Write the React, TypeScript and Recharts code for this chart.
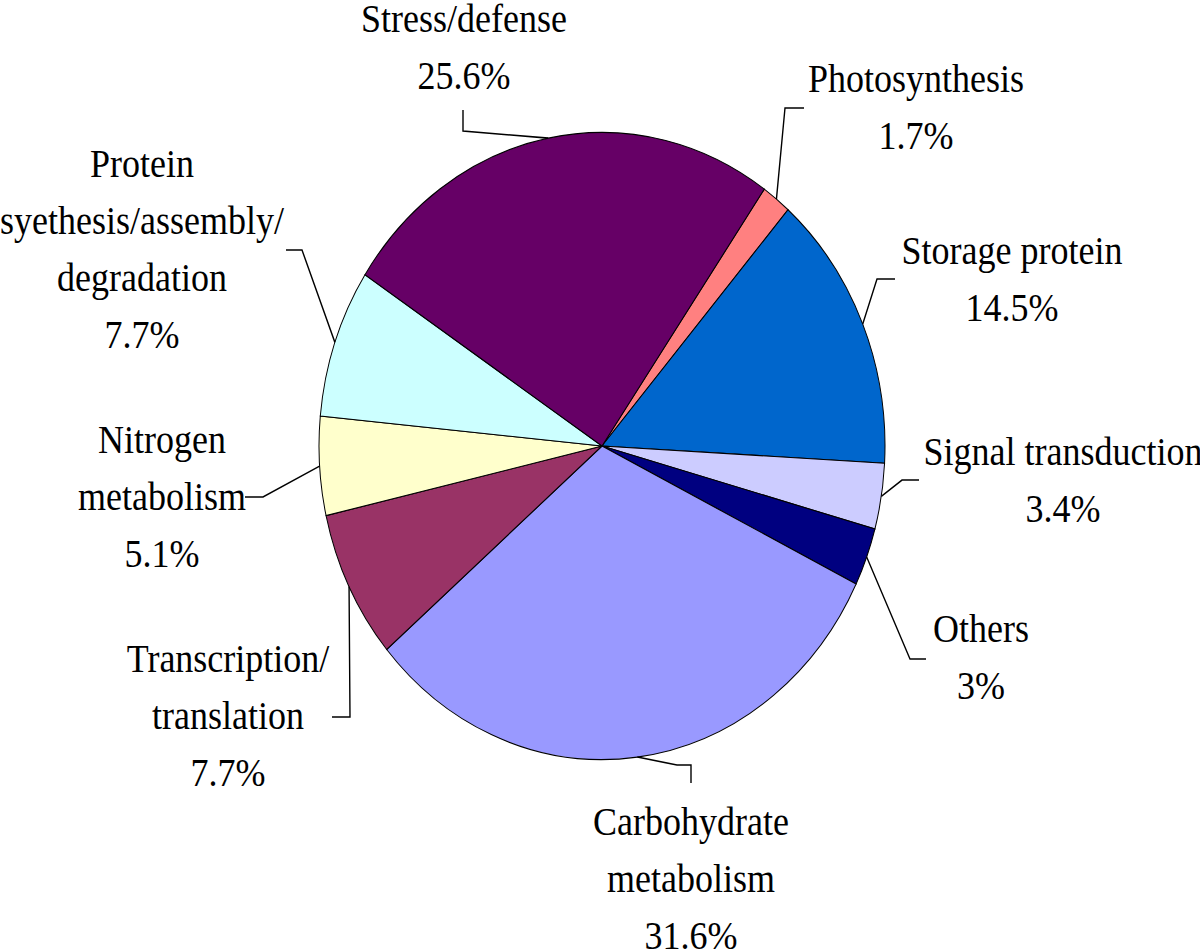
import { PieChart, Pie, Cell } from 'recharts';

// slices clockwise, starting just right of 12 o'clock
const categories = [
  'Photosynthesis',
  'Storage protein',
  'Signal transduction',
  'Others',
  'Carbohydrate\nmetabolism',
  'Transcription/\ntranslation',
  'Nitrogen\nmetabolism',
  'Protein\nsyethesis/assembly/\ndegradation',
  'Stress/defense',
];
const shares = [1.7, 14.5, 3.4, 3, 31.6, 7.7, 5.1, 7.7, 25.6];
const colors = ['#FF8080', '#0066CC', '#CCCCFF', '#000080', '#9999FF', '#993366', '#FFFFCC', '#CCFFFF', '#660066'];

// label placement in picture px: text centre, first baseline, leader points (text side -> elbow)
const labelSpots = [
  { x: 916, y: 92, line: [[804, 108], [785, 108]] },
  { x: 1012, y: 264, line: [[895, 279], [877, 279]] },
  { x: 1063, y: 465, line: [[919, 480], [902, 480]] },
  { x: 981, y: 642, line: [[926, 659], [910, 659]] },
  { x: 691, y: 835, line: [[691, 783], [691, 765], [677, 765]] },
  { x: 228, y: 672, line: [[332, 717], [350, 717]] },
  { x: 162, y: 453, line: [[245, 497], [263, 497]] },
  { x: 142, y: 177, line: [[286, 250], [302, 250]] },
  { x: 464, y: 32, line: [[463, 110], [463, 131]] },
];

const SY = 1.108; // the original picture is stretched vertically
const W = 1200;
const H = Math.round(950 / SY);
const LINE = 57 / SY;

const pieData = categories.map((c, i) => ({ name: c, value: shares[i] }));

const renderLabel = (p: any) => {
  const { cx, cy, midAngle, outerRadius, index } = p;
  const rad = Math.PI / 180;
  const ex = cx + outerRadius * Math.cos(-midAngle * rad);
  const ey = cy + outerRadius * Math.sin(-midAngle * rad);
  const spot = labelSpots[index];
  const pts = spot.line.map(([x, y]) => `${x},${y / SY}`).join(' ');
  const lines = [...categories[index].split('\n'), `${shares[index]}%`];
  return (
    <g key={`lbl-${index}`}>
      <polyline points={`${pts} ${ex},${ey}`} fill="none" stroke="#000" strokeWidth={1.4} />
      <text x={spot.x} y={spot.y / SY} textAnchor="middle" fontFamily="'Liberation Serif', 'Times New Roman', serif" fontSize={36} fill="#000">
        {lines.map((t, i) => (
          <tspan key={i} x={spot.x} dy={i === 0 ? 0 : LINE}>{t}</tspan>
        ))}
      </text>
    </g>
  );
};

export default function App() {
  return (
    <div
      style={{
        position: 'absolute',
        left: 0,
        top: 0,
        width: W,
        height: H,
        background: '#fff',
        transform: `scale(1, ${SY})`,
        transformOrigin: '0 0',
      }}
    >
      <PieChart width={W} height={H} margin={{ top: 0, right: 0, bottom: 0, left: 0 }}>
        <Pie
          data={pieData}
          dataKey="value"
          nameKey="name"
          cx={602}
          cy={446 / SY}
          outerRadius={283}
          startAngle={55}
          endAngle={-305}
          stroke="#000"
          strokeWidth={1}
          labelLine={false}
          label={renderLabel}
          isAnimationActive={false}
        >
          {pieData.map((d, i) => (
            <Cell key={d.name} fill={colors[i]} />
          ))}
        </Pie>
      </PieChart>
    </div>
  );
}
